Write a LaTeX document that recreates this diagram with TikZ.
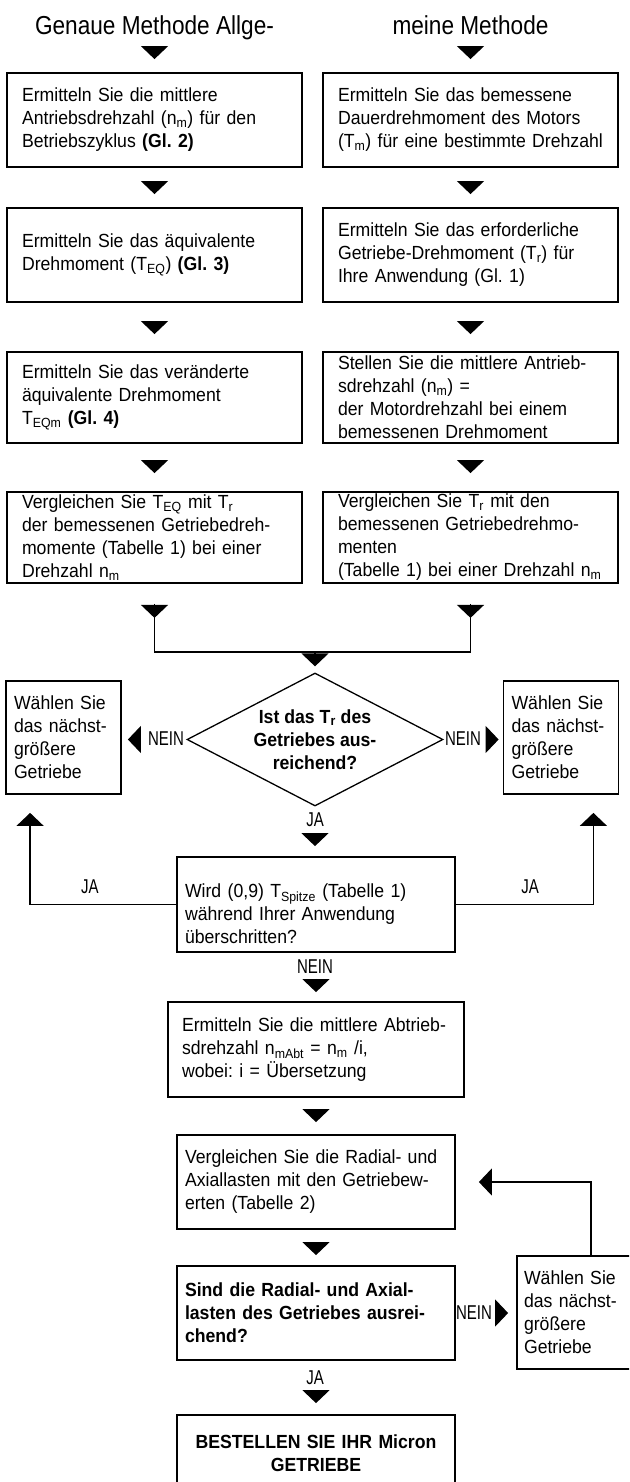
\documentclass[tikz,border=0pt]{standalone}
\usepackage{fontspec}
\setmainfont{Liberation Sans}[FakeStretch=0.93]
\newfontfamily\titlefont{Liberation Sans}[FakeStretch=0.87]
\newfontfamily\labelfont{Liberation Sans}[FakeStretch=0.75]
\usetikzlibrary{arrows.meta,shapes.geometric}
\newcommand{\bodyfont}{\fontsize{19pt}{23pt}\selectfont}
\newcommand{\idx}[1]{\textsubscript{#1}}
\frenchspacing

\tikzset{
    box/.style={draw, line width=1.8pt, align=left, font=\bodyfont, inner ysep=0pt},
    colbox/.style={box, text width=265pt, inner xsep=15pt, minimum height=#1},
    midbox/.style={box, text width=262pt, inner xsep=8pt, minimum height=#1},
    sidebox/.style={box, text width=99pt, inner xsep=8pt, minimum height=113pt},
    decision/.style={diamond, draw, line width=1.3pt, aspect=1.9, minimum width=256pt,
        minimum height=133pt, inner sep=0pt, align=center, font=\bodyfont\bfseries},
    lbl/.style={font=\labelfont\fontsize{20pt}{24pt}\selectfont, inner sep=0pt},
    head/.style={font=\titlefont\fontsize{26pt}{30pt}\selectfont, inner sep=0pt,
        text height=19pt, text depth=5pt, anchor=base},
    tri/.style={-{Triangle[width=27pt,length=13pt]}, line width=1.3pt},
    link/.style={line width=1.3pt}
}

\begin{document}
\begin{tikzpicture}[x=1pt, y=-1pt]
\useasboundingbox (0,0) rectangle (629,1482);
\clip (0,0) rectangle (629,1482);

% headings
\node[head] (tl) at (154.5,35) {Genaue Methode Allge-};
\node[head] (tr) at (470.5,35) {meine Methode};

% left column
\node[colbox=94pt] (L1) at (154.5,120) {Ermitteln Sie die mittlere\\Antriebsdrehzahl (n\idx{m}) für den\\Betriebszyklus \textbf{(Gl. 2)}};
\node[colbox=94pt] (L2) at (154.5,255) {Ermitteln Sie das äquivalente\\Drehmoment (T\idx{EQ}) \textbf{(Gl. 3)}};
\node[colbox=91pt] (L3) at (154.5,397.5) {Ermitteln Sie das veränderte\\äquivalente Drehmoment\\T\idx{EQm} \textbf{(Gl. 4)}};
\node[colbox=91pt] (L4) at (154.5,537.5) {Vergleichen Sie T\idx{EQ} mit T\idx{r}\\der bemessenen Getriebedreh-\\momente (Tabelle 1) bei einer\\Drehzahl n\idx{m}};

% right column
\node[colbox=94pt] (R1) at (470.5,120) {Ermitteln Sie das bemessene\\Dauerdrehmoment des Motors\\(T\idx{m}) für eine bestimmte Drehzahl};
\node[colbox=94pt] (R2) at (470.5,255) {Ermitteln Sie das erforderliche\\Getriebe-Drehmoment (T\idx{r}) für\\Ihre Anwendung (Gl. 1)};
\node[colbox=91pt] (R3) at (470.5,397.5) {Stellen Sie die mittlere Antrieb-\\sdrehzahl (n\idx{m}) =\\der Motordrehzahl bei einem\\bemessenen Drehmoment};
\node[colbox=91pt] (R4) at (470.5,537.5) {Vergleichen Sie T\idx{r} mit den\\bemessenen Getriebedrehmo-\\menten\\(Tabelle 1) bei einer Drehzahl n\idx{m}};

% decision and the side boxes
\coordinate (join) at (315,652);
\node[decision] (dia) at (315,739.5) {Ist das T\idx{r} des\\Getriebes aus-\\reichend?};
\node[sidebox] (sideL) at (63.5,737.5) {Wählen Sie\\das nächst-\\größere\\Getriebe};
\node[sidebox] (sideR) at (561,737.5) {Wählen Sie\\das nächst-\\größere\\Getriebe};

% middle column
\node[midbox=95pt] (B5) at (316,904.5) {\rule{0pt}{33pt}Wird (0,9) T\idx{Spitze} (Tabelle 1)\\während Ihrer Anwendung\\überschritten?};
\node[box, text width=268pt, inner xsep=14pt, minimum height=95pt] (B6) at (316,1049.5) {Ermitteln Sie die mittlere Abtrieb-\\sdrehzahl n\idx{mAbt} = n\idx{m} /i,\\wobei: i = Übersetzung};
\node[midbox=94pt] (B7) at (316,1182) {Vergleichen Sie die Radial- und\\Axiallasten mit den Getriebew-\\erten (Tabelle 2)};
\node[midbox=94pt, font=\bodyfont\bfseries] (B8) at (316,1313) {Sind die Radial- und Axial-\\lasten des Getriebes ausrei-\\chend?};
\node[sidebox, text width=109pt, inner xsep=7pt] (sideB) at (578.5,1312.5) {Wählen Sie\\das nächst-\\größere\\Getriebe};
\node[box, align=center, text width=262pt, inner xsep=8pt, minimum height=76pt, font=\bodyfont\bfseries] (fin) at (316,1453) {BESTELLEN SIE IHR Micron\\GETRIEBE};

% labels
\node[lbl] (neinL) at (166,739) {NEIN};
\node[lbl] (neinR) at (463,739) {NEIN};
\node[lbl] (jaD) at (315,820) {JA};
\node[lbl] (jaL) at (90,887) {JA};
\node[lbl] (jaR) at (530,887) {JA};
\node[lbl] (nein5) at (315,967) {NEIN};
\node[lbl] (nein8) at (474,1313) {NEIN};
\node[lbl] (ja8) at (315,1378) {JA};

% flow
\draw[tri, shorten <=7pt, shorten >=13pt] (tl.south) -- (L1.north);
\draw[tri, shorten <=7pt, shorten >=13pt] (tr.south) -- (R1.north);
\draw[tri, shorten <=15pt, shorten >=13pt] (L1.south) -- (L2.north);
\draw[tri, shorten <=15pt, shorten >=13pt] (R1.south) -- (R2.north);
\draw[tri, shorten <=20pt, shorten >=17pt] (L2.south) -- (L3.north);
\draw[tri, shorten <=20pt, shorten >=17pt] (R2.south) -- (R3.north);
\draw[tri, shorten <=18pt, shorten >=18pt] (L3.south) -- (L4.north);
\draw[tri, shorten <=18pt, shorten >=18pt] (R3.south) -- (R4.north);
\draw[tri, shorten <=20pt] (L4.south) -- ++(0,34);
\draw[tri, shorten <=20pt] (R4.south) -- ++(0,34);
\draw[link] ([yshift=-33pt]L4.south) |- (join) -| ([yshift=-33pt]R4.south);
\draw[tri, shorten <=1pt, shorten >=6pt] (join) -- (dia.north);

\draw[tri, shorten <=46pt, shorten >=6pt] (dia.west) -- (dia.west -| sideL.east);
\draw[tri, shorten <=43pt, shorten >=4pt] (dia.east) -- (dia.east -| sideR.west);
\draw[tri, shorten <=27pt, shorten >=10pt] (dia.south) -- (dia.south |- B5.north);

\draw[tri, shorten >=18pt] (B5.west) -| ([xshift=25pt]sideL.south west);
\draw[tri, shorten >=18pt] (B5.east) -| ([xshift=-26pt]sideR.south east);
\draw[tri, shorten <=26pt, shorten >=9pt] (B5.south) -- (B6.north);
\draw[tri, shorten <=13pt, shorten >=12pt] (B6.south) -- (B7.north);
\draw[tri, shorten <=14pt, shorten >=10pt] (B7.south) -- (B8.north);
\draw[tri, shorten <=40pt, shorten >=8pt] (B8.east) -- (B8.east -| sideB.west);
\draw[tri, shorten >=23pt] ([xshift=75pt]sideB.north west) |- (B7.east);
\draw[tri, shorten <=30pt, shorten >=11pt] (B8.south) -- (fin.north);

\end{tikzpicture}
\end{document}
